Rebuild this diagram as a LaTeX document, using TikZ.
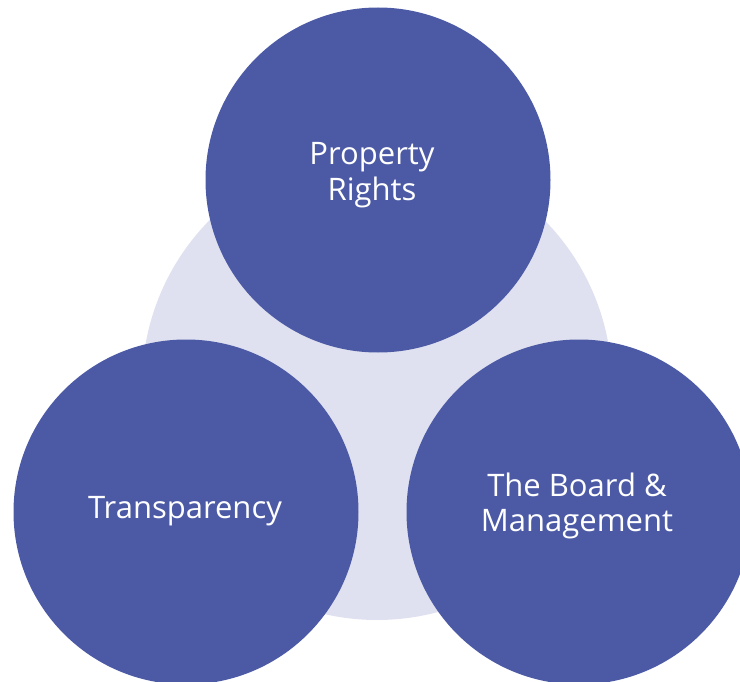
\documentclass[tikz,border=0pt]{standalone}
\usepackage{fontspec}
\setmainfont{Open Sans}
\definecolor{pillar}{HTML}{4C5AA6}
\definecolor{backdrop}{HTML}{DFE1F0}
\begin{document}
\begin{tikzpicture}[x=1pt, y=-1pt,
        pillar/.style={circle, fill=pillar, minimum size=345pt, inner sep=0pt},
        caption/.style={text=white, align=center, font=\fontsize{31}{35.5}\selectfont}]
        \useasboundingbox (0, 0) rectangle (740, 682);
        \clip (0, 0) rectangle (740, 682);
        \fill[backdrop] (377, 385) circle (235pt);
        \node[pillar] (rights) at (378, 180) {};
        \node[pillar] (transparency) at (186, 512) {};
        \node[pillar] (board) at (579, 512) {};
        \node[caption] (rights-text) at ([xshift=-6pt, yshift=5pt]rights.center) {Property\\Rights};
        \node[caption] (transparency-text) at ([xshift=-1pt, yshift=1pt]transparency.center) {Transparency};
        \node[caption] (board-text) at ([xshift=-2pt, yshift=6pt]board.center) {The Board \&\\Management};
    \end{tikzpicture}
\end{document}
